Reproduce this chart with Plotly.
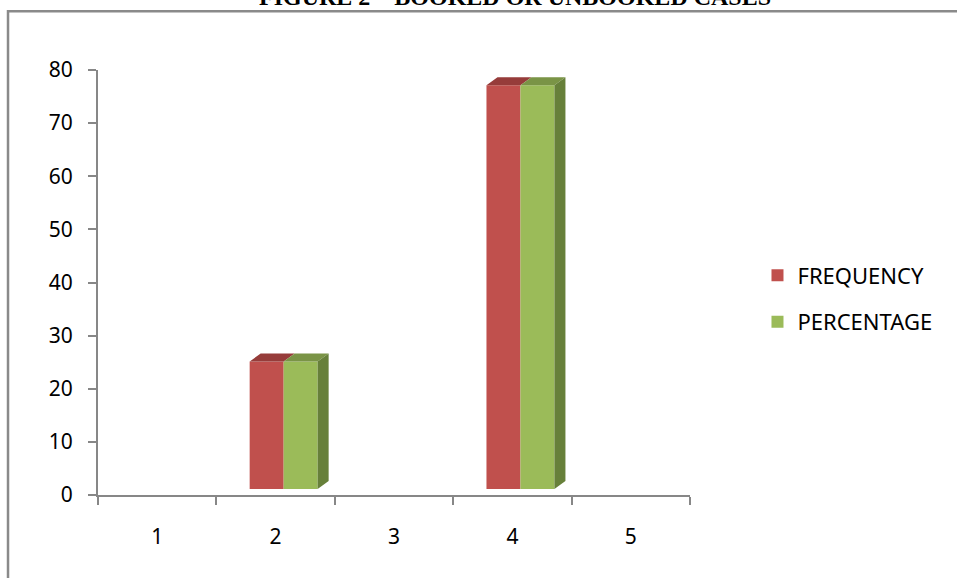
import plotly.graph_objects as go

# Booked vs unbooked cases (categories 1-5)
categories = [1, 2, 3, 4, 5]
frequency = [None, 24, None, 76, None]
percentage = [None, 24, None, 76, None]
series_names = ["FREQUENCY", "PERCENTAGE"]
y_ticks = [0, 10, 20, 30, 40, 50, 60, 70, 80]

RED, RED_TOP = "#C0504D", "#963C3A"
GREEN, GREEN_TOP, GREEN_SIDE = "#9BBB59", "#7A9446", "#67803A"
AXIS = "#878787"

# geometry of the pseudo-3D columns (data units)
BW = 0.287      # width of each column
SHIFT = 0.068   # group offset from category centre
DX = 0.093      # depth offset along x
DY = 1.5        # depth offset along y

fig = go.Figure()

# invisible anchor so the value axis (y) gets drawn
fig.add_trace(go.Scatter(x=[categories[0]], y=[y_ticks[0]], mode="markers",
                         marker=dict(opacity=0), showlegend=False, hoverinfo="skip"))

fig.add_trace(go.Bar(x=categories, y=frequency, name=series_names[0], width=BW,
                     offset=-BW + SHIFT, marker=dict(color=RED, line=dict(width=0)),
                     yaxis="y2", legendgroup="f", hoverinfo="skip"))
fig.add_trace(go.Bar(x=categories, y=percentage, name=series_names[1], width=BW,
                     offset=SHIFT, marker=dict(color=GREEN, line=dict(width=0)),
                     yaxis="y2", legendgroup="p", hoverinfo="skip"))


def top_faces(values, left_off):
    xs, ys = [], []
    for c, v in zip(categories, values):
        if v is None:
            continue
        x0 = c + left_off
        x1 = x0 + BW
        xs += [x0, x1, x1 + DX, x0 + DX, x0, None]
        ys += [v, v, v + DY, v + DY, v, None]
    return xs, ys


def side_faces(values, left_off):
    xs, ys = [], []
    for c, v in zip(categories, values):
        if v is None:
            continue
        x1 = c + left_off + BW
        xs += [x1, x1 + DX, x1 + DX, x1, x1, None]
        ys += [0, DY, v + DY, v, 0, None]
    return xs, ys


for vals, off, col in [(frequency, -BW + SHIFT, RED_TOP), (percentage, SHIFT, GREEN_TOP)]:
    xs, ys = top_faces(vals, off)
    fig.add_trace(go.Scatter(x=xs, y=ys, mode="lines", fill="toself", fillcolor=col,
                             line=dict(width=0, color=col), yaxis="y2",
                             showlegend=False, hoverinfo="skip"))

xs, ys = side_faces(percentage, SHIFT)
fig.add_trace(go.Scatter(x=xs, y=ys, mode="lines", fill="toself", fillcolor=GREEN_SIDE,
                         line=dict(width=0, color=GREEN_SIDE), yaxis="y2",
                         showlegend=False, hoverinfo="skip"))

fig.update_layout(
    width=957, height=578,
    margin=dict(l=98, r=267, t=70, b=83),
    paper_bgcolor="white", plot_bgcolor="white",
    barmode="overlay",
    font=dict(family="Noto Sans", color="black"),
    xaxis=dict(range=[0.5, 5.5], tickvals=categories, ticktext=[str(c) for c in categories],
               ticks="", showline=True, linecolor=AXIS, linewidth=2, showgrid=False,
               zeroline=False, tickfont=dict(size=21), ticklabelstandoff=22,
               minor=dict(tickvals=[c - 0.5 for c in categories] + [categories[-1] + 0.5],
                          ticks="outside", ticklen=8, tickwidth=2, tickcolor=AXIS)),
    yaxis=dict(range=[0, 80], tickvals=y_ticks, ticks="outside", ticklen=8, tickwidth=2,
               tickcolor=AXIS, showline=True, linecolor=AXIS, linewidth=2,
               showgrid=False, zeroline=False, tickfont=dict(size=21),
               ticklabelstandoff=11),
    yaxis2=dict(range=[-1.13, 78.87], overlaying="y", visible=False),
    legend=dict(x=1.114, y=0.566, xanchor="left", yanchor="top", font=dict(size=22),
                traceorder="grouped", tracegroupgap=15, bgcolor="rgba(0,0,0,0)"),
    showlegend=True,
    annotations=[dict(text="<b>FIGURE 2 – BOOKED OR UNBOOKED CASES</b>", xref="paper",
                      yref="paper", x=0.704, y=1.1365, xanchor="center", yanchor="bottom",
                      showarrow=False,
                      font=dict(family="Liberation Serif", size=24, color="black"))],
    shapes=[dict(type="rect", xref="paper", yref="paper", x0=-0.152, x1=1.7,
                 y0=-0.5, y1=1.138, line=dict(color="#8A8A8A", width=2.5))],
)

fig.write_html("out.html")
